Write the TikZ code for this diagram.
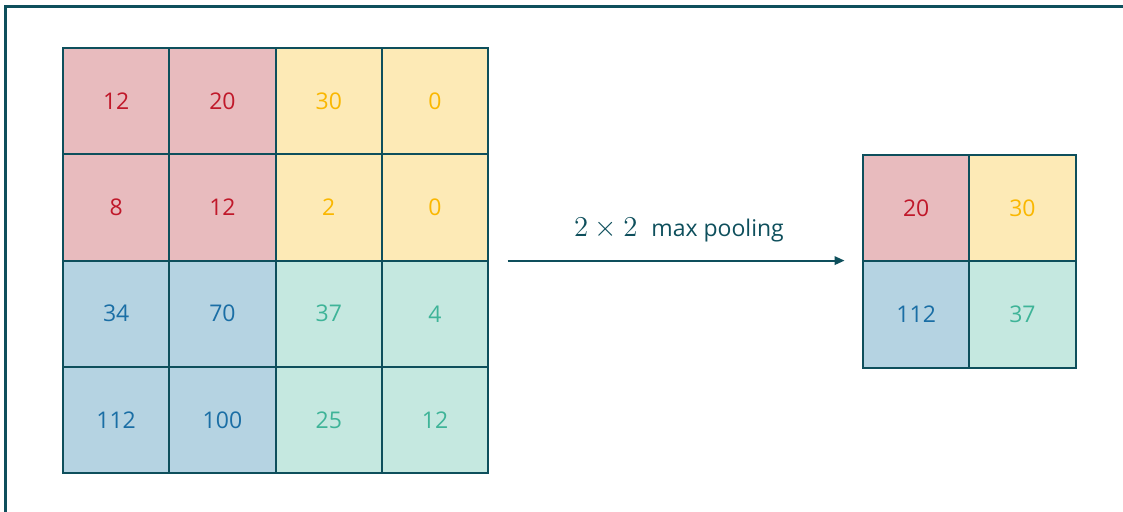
\documentclass[tikz,border=0pt]{standalone}
\usepackage{fontspec}
\newfontfamily\cellfont{Open Sans}
\usetikzlibrary{arrows.meta,positioning,fit}
\definecolor{poolFrame}{RGB}{14,79,92}
\definecolor{poolRed}{RGB}{192,24,42}
\definecolor{poolRedFill}{RGB}{232,187,190}
\definecolor{poolYellow}{RGB}{250,183,0}
\definecolor{poolYellowFill}{RGB}{253,234,182}
\definecolor{poolBlue}{RGB}{26,110,165}
\definecolor{poolBlueFill}{RGB}{181,211,226}
\definecolor{poolGreen}{RGB}{62,180,152}
\definecolor{poolGreenFill}{RGB}{197,232,224}
\def\cellsize{106.3}

\begin{document}
\begin{tikzpicture}[x=0.5pt,y=-0.5pt,font=\cellfont\fontsize{11.5}{14}\selectfont,
 cell/.style={draw=poolFrame,line width=1pt,minimum size=53.15pt,inner sep=0pt,outer sep=0pt},
 cR/.style={cell,fill=poolRedFill,text=poolRed},
 cY/.style={cell,fill=poolYellowFill,text=poolYellow},
 cB/.style={cell,fill=poolBlueFill,text=poolBlue},
 cG/.style={cell,fill=poolGreenFill,text=poolGreen},
 arr/.style={-{Triangle[length=5pt,width=4.2pt]},line width=1pt,poolFrame}]
\path[use as bounding box] (0,0) rectangle (1123,512);
\draw[poolFrame,line width=1.3pt] (5.5,540) -- (5.5,6.5) -- (1150,6.5);
% input feature map, 4x4
\foreach \r/\a/\b/\c/\d/\sl/\sr in {1/12/20/30/0/cR/cY,2/8/12/2/0/cR/cY,
 3/34/70/37/4/cB/cG,4/112/100/25/12/cB/cG}{
 \node[\sl] (in-\r-1) at ({63+\cellsize*0.5},{48+\cellsize*(\r-0.5)}) {\a};
 \node[\sl] (in-\r-2) at ({63+\cellsize*1.5},{48+\cellsize*(\r-0.5)}) {\b};
 \node[\sr] (in-\r-3) at ({63+\cellsize*2.5},{48+\cellsize*(\r-0.5)}) {\c};
 \node[\sr] (in-\r-4) at ({63+\cellsize*3.5},{48+\cellsize*(\r-0.5)}) {\d};
}
% pooled output, 2x2
\node[cR] (out-1-1) at ({863+\cellsize*0.5},{155+\cellsize*0.5}) {20};
\node[cY] (out-1-2) at ({863+\cellsize*1.5},{155+\cellsize*0.5}) {30};
\node[cB] (out-2-1) at ({863+\cellsize*0.5},{155+\cellsize*1.5}) {112};
\node[cG] (out-2-2) at ({863+\cellsize*1.5},{155+\cellsize*1.5}) {37};
\node[fit=(in-1-1)(in-4-4),inner sep=0pt] (in) {};
\node[fit=(out-1-1)(out-2-2),inner sep=0pt] (out) {};
\draw[arr,shorten <=9.5pt,shorten >=9pt] (in.east) -- (in.east -| out.west);
\node[anchor=base,text=poolFrame,inner sep=0pt] (lbl) at (679,237)
 {{\fontsize{14}{16}\selectfont$2\times2$}\hspace{0.6em}max pooling};
\end{tikzpicture}
\end{document}
